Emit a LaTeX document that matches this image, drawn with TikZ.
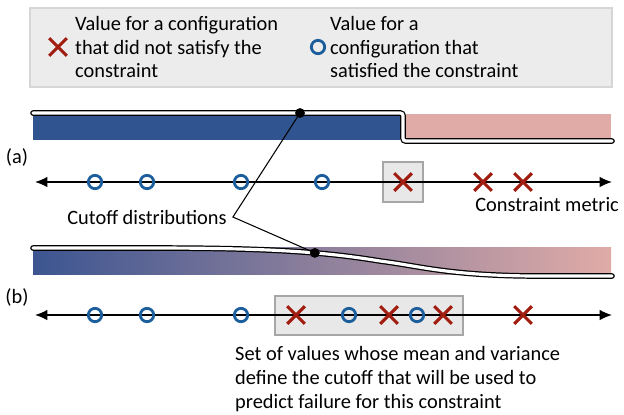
\documentclass[tikz,border=0pt]{standalone}
\usepackage{fontspec}
\setmainfont{Carlito}
\usetikzlibrary{arrows.meta,shapes.misc}

\definecolor{legendfill}{HTML}{ECECEC}
\definecolor{legenddraw}{HTML}{D6D6D6}
\definecolor{boxfill}{HTML}{E8E8E8}
\definecolor{boxdraw}{HTML}{A6A6A6}
\definecolor{okblue}{HTML}{1C5E9C}
\definecolor{failred}{HTML}{A01D10}
\definecolor{barblue}{HTML}{30548F}
\definecolor{barpink}{HTML}{E0ABA7}
\definecolor{gradblue}{HTML}{3C5591}
\definecolor{gradmid}{HTML}{786E97}

\begin{document}
\begin{tikzpicture}[
  x=0.02cm, y=-0.02cm,
  font=\fontsize{11.6}{13.6}\selectfont,
  okmark/.style={circle, draw=okblue, line width=1.6pt, minimum size=7.6pt, inner sep=0pt},
  failmark/.style={cross out, draw=failred, line width=1.8pt, minimum size=8.2pt, inner sep=0pt},
  axisline/.style={line width=0.8pt, {Latex[length=7pt,width=6pt]}-{Latex[length=7pt,width=6pt]}},
  cutoff/.style={draw=black, line width=0.7pt, double=white, double distance=1.8pt, line cap=round},
  connector/.style={line width=0.6pt},
  dot/.style={circle, fill=black, minimum size=5.4pt, inner sep=0pt},
  selbox/.style={fill=boxfill, draw=boxdraw, line width=0.8pt},
]
\useasboundingbox (0,0) rectangle (624,414);

% legend
\filldraw[fill=legendfill, draw=legenddraw, line width=0.6pt] (30,8) rectangle (612,87);
\node[failmark] (legx) at (58,47) {};
\node[anchor=west, align=left] (legfail) at (69,47)
  {Value for a configuration\\that did not satisfy the\\constraint};
\node[okmark] (lego) at (318,47) {};
\node[anchor=west, align=left] (legok) at (324,47)
  {Value for a\\configuration that\\satisfied the constraint};

% (a) hard cutoff
\fill[barblue] (33,115) rectangle (400,140);
\fill[barpink] (406,114) rectangle (611,138);
\draw[cutoff, rounded corners=1.5pt] (33,113) -- (403,113) -- (403,141) -- (612,141);

\node (lbla) at (17,157) {(a)};
\filldraw[selbox] (383,162) rectangle (423,202);
\coordinate (al) at (35,182);
\coordinate (ar) at (612,182);
\draw[axisline] (al) -- (ar);
\foreach \x [count=\i] in {95,147,241,322}
  \node[okmark] (ao\i) at (\x,182) {};
\foreach \x [count=\i] in {403,483,523}
  \node[failmark] (ax\i) at (\x,182) {};
\node[anchor=east] (metric) at (625,205) {Constraint metric};

% (b) smooth cutoff
\shade[left color=gradblue, middle color=gradmid, right color=barpink] (33,247) rectangle (611,274);
\draw[cutoff] (33,248) -- (150,248)
  .. controls (260,248) and (320,251) .. (380,261) coordinate[pos=0.65] (db)
  .. controls (420,266) and (450,276) .. (540,276) -- (612,276);

\node (lblb) at (17,297) {(b)};
\filldraw[selbox] (275,296) rectangle (463,335);
\coordinate (bl) at (35,315);
\coordinate (br) at (612,315);
\draw[axisline] (bl) -- (br);
\foreach \x [count=\i] in {95,147,241,349,417}
  \node[okmark] (bo\i) at (\x,315) {};
\foreach \x [count=\i] in {296,389,443,523}
  \node[failmark] (bx\i) at (\x,315) {};

\node[anchor=north west, align=left] (setlbl) at (229,340)
  {Set of values whose mean and variance\\define the cutoff that will be used to\\predict failure for this constraint};

% cutoff label and its leaders
\node (cut) at (147,217) {Cutoff distributions};
\node[dot] (dota) at (300,113) {};
\node[dot] (dotb) at (db) {};
\draw[connector] (dota.center) -- (cut.east) -- (dotb.center);
\node[dot] at (dota) {};
\node[dot] at (dotb) {};
\end{tikzpicture}
\end{document}
